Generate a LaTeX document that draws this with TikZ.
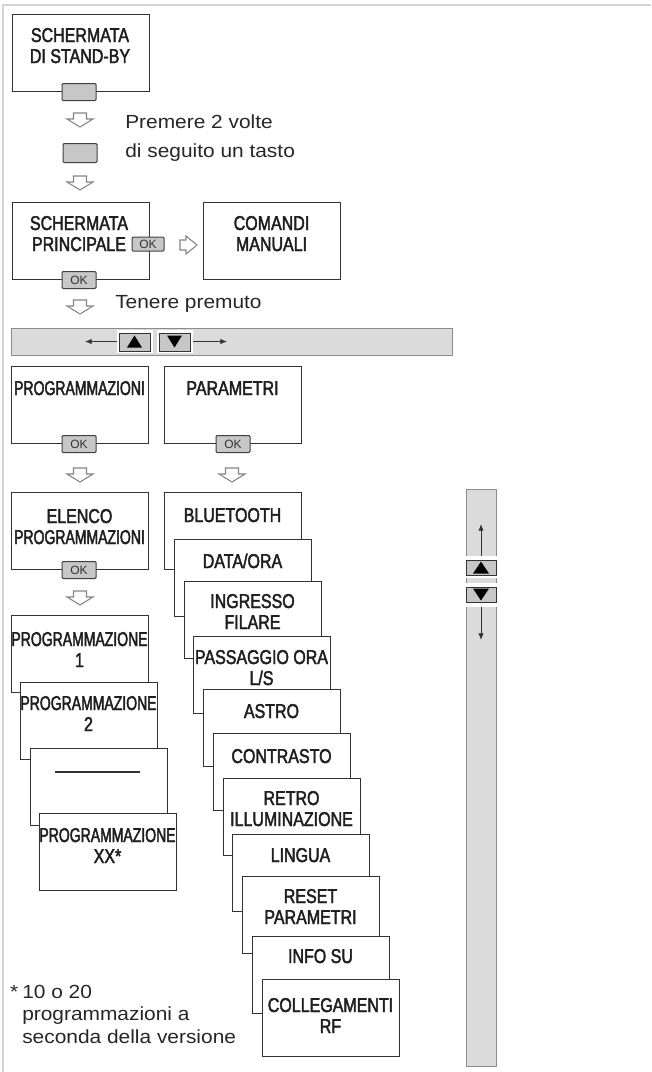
\documentclass[tikz,border=0pt]{standalone}
\usepackage{fontspec}
\setmainfont[FakeStretch=1.1]{Liberation Sans}
\newfontfamily\labfont[FakeStretch=0.8,FakeBold=2.2]{Liberation Sans}
\newfontfamily\labnarrow[FakeStretch=0.7,FakeBold=2.2]{Liberation Sans}
\newfontfamily\okfont{Liberation Sans}
\usetikzlibrary{arrows.meta}
\begin{document}
\begin{tikzpicture}[x=0.75pt,y=-0.75pt,
 box/.style={draw=black!80, line width=1.1pt, fill=white, minimum width=102.75pt, minimum height=57.75pt, inner sep=0pt, anchor=north west},
 lab/.style={font=\labfont\fontsize{15}{15.75}\selectfont, align=center, inner sep=0pt, anchor=base, text=black!88},
 lab2/.style={lab, yshift=-15.75pt},
 key/.style={draw=black!75, fill=black!22, line width=0.75pt, rounded corners=0.8pt, minimum width=25.5pt, minimum height=12.75pt, inner sep=0pt, font=\okfont\fontsize{9}{9}\selectfont, text=black!80},
 txt/.style={font=\fontsize{14.25}{21.75}\selectfont, align=left, inner sep=0pt, anchor=base west, text=black!85},
 barstyle/.style={draw=black!45, fill=black!14, line width=0.9pt, inner sep=0pt, anchor=north west},
 barkey/.style={draw=black!80, fill=black!22, line width=0.75pt, inner sep=0pt},
 bgwhite/.style={fill=white, draw=none, inner sep=0pt},
 harr/.style={draw=black!48, fill=white, line width=0.8pt, line join=miter},
 thinarr/.style={draw=black!80, line width=0.6pt, -{Latex[length=5pt,width=4pt]}},
 downarr/.pic={\path[harr] (-6.5,0) -- (6.5,0) -- (6.5,6) -- (13,6) -- (0,14) -- (-13,6) -- (-6.5,6) -- cycle;},
 rightarr/.pic={\path[harr] (0,-5) -- (6,-5) -- (6,-9) -- (17,0) -- (6,9) -- (6,5) -- (0,5) -- cycle;}
]
\useasboundingbox (0,0) rectangle (651,1072);
% frame
\draw[black!17, line width=1.5pt] (3,1072) -- (3,5) -- (651,5);

% stand-by
\node[box] (sb) at (12,14) {};
\node[lab2] (sbt) at (80,42) {SCHERMATA\\DI STAND-BY};
\node[key] (k1) at (79,92) {};
\pic at (80,113) {downarr};
\node[key, minimum height=14.25pt] (k2) at (80,153) {};
\pic at (80,176) {downarr};
\node[txt, yshift=-21.75pt] (t1) at (125,128) {Premere 2 volte\\di seguito un tasto};

% principale
\node[box] (pr) at (12,202) {};
\node[lab2] (prt) at (79,230) {SCHERMATA\\PRINCIPALE};
\node[key, minimum width=24pt, minimum height=10.5pt] (k3) at (148,244) {OK};
\node[key] (k4) at (79,280) {OK};
\pic at (180,245) {rightarr};
\node[box] (cm) at (203,202) {};
\node[lab2] (cmt) at (271.5,230) {COMANDI\\MANUALI};
\pic at (80,300) {downarr};
\node[txt] (t2) at (115,308) {Tenere premuto};

% horizontal bar
\node[barstyle, minimum width=330.75pt, minimum height=20.25pt] (hbar) at (11,328) {};
\node[bgwhite, minimum width=27pt, minimum height=17.25pt] (hub) at (135,341.5) {};
\node[bgwhite, minimum width=27pt, minimum height=17.25pt] (hdb) at (175,341.5) {};
\node[barkey, minimum width=23.25pt, minimum height=13.5pt] (huk) at (134.5,342) {};
\node[barkey, minimum width=23.25pt, minimum height=13.5pt] (hdk) at (174.5,342) {};
\fill[black] (huk.center) ++(-7.5,5.5) -- ++(15,0) -- ++(-7.5,-12) -- cycle;
\fill[black] (hdk.center) ++(-7.5,-6.5) -- ++(15,0) -- ++(-7.5,12) -- cycle;
\coordinate (hl) at (85,341.5);
\coordinate (hr) at (227,341.5);
\draw[thinarr] (hub.west) -- (hl);
\draw[thinarr] (hdb.east) -- (hr);

% programmazioni / parametri
\node[box] (pg) at (11,366) {};
\node[lab, font=\labnarrow\fontsize{15}{15.75}\selectfont] (pgt) at (79.5,395) {PROGRAMMAZIONI};
\node[key] (k5) at (79,444) {OK};
\node[box] (pa) at (164,366) {};
\node[lab] (pat) at (232.5,395) {PARAMETRI};
\node[key] (k6) at (233,444) {OK};
\pic at (80,468) {downarr};
\pic at (232,468) {downarr};

% left column
\node[box] (el) at (11,492) {};
\node[lab2] (elt) at (79.5,523) {ELENCO\\{\labnarrow PROGRAMMAZIONI}};
\node[key] (k7) at (79,570) {OK};
\pic at (80,591) {downarr};
\node[box] (p1) at (11,615) {};
\node[lab2] (p1t) at (79.5,646) {{\labnarrow PROGRAMMAZIONE}\\1};
\node[box] (p2) at (20,682) {};
\node[lab2] (p2t) at (88.5,710) {{\labnarrow PROGRAMMAZIONE}\\2};
\node[box] (p3) at (30,748) {};
\draw[black!80, line width=1pt] (55,772) -- (140,772);
\node[box] (p4) at (39,813) {};
\node[lab2] (p4t) at (107.5,842) {{\labnarrow PROGRAMMAZIONE}\\XX*};

% right column
\node[box] (r1) at (164,492) {};
\node[lab] (r1t) at (232.5,522) {BLUETOOTH};
\node[box] (r2) at (174,539) {};
\node[lab] (r2t) at (242.5,568) {DATA/ORA};
\node[box] (r3) at (184,581) {};
\node[lab2] (r3t) at (252.5,608) {INGRESSO\\FILARE};
\node[box] (r4) at (193,636) {};
\node[lab2] (r4t) at (261.5,664) {PASSAGGIO ORA\\L/S};
\node[box] (r5) at (203,689) {};
\node[lab] (r5t) at (271.5,718) {ASTRO};
\node[box] (r6) at (213,733) {};
\node[lab] (r6t) at (281.5,763) {CONTRASTO};
\node[box] (r7) at (223,778) {};
\node[lab2] (r7t) at (291.5,805) {RETRO\\ILLUMINAZIONE};
\node[box] (r8) at (232,834) {};
\node[lab] (r8t) at (300.5,862) {LINGUA};
\node[box] (r9) at (242,876) {};
\node[lab2] (r9t) at (310.5,903) {RESET\\PARAMETRI};
\node[box] (r10) at (252,936) {};
\node[lab] (r10t) at (320.5,963) {INFO SU};
\node[box] (r11) at (262,979) {};
\node[lab2] (r11t) at (330.5,1012) {COLLEGAMENTI\\RF};

% vertical bar
\node[barstyle, minimum width=22.5pt, minimum height=432.75pt] (vbar) at (466,489) {};
\node[bgwhite, minimum width=25.5pt, minimum height=16.5pt] (vub) at (481,567) {};
\node[bgwhite, minimum width=25.5pt, minimum height=18pt] (vdb) at (481,595) {};
\node[barkey, minimum width=22.5pt, minimum height=11.25pt] (vuk) at (481,567.5) {};
\node[barkey, minimum width=22.5pt, minimum height=11.25pt] (vdk) at (481,594.5) {};
\fill[black] (vuk.center) ++(-8,6) -- ++(16,0) -- ++(-8,-12) -- cycle;
\fill[black] (vdk.center) ++(-8,-6) -- ++(16,0) -- ++(-8,12) -- cycle;
\coordinate (vu) at (481,524);
\coordinate (vd) at (481,640);
\draw[thinarr] (vub.north) -- (vu);
\draw[thinarr] (vdb.south) -- (vd);

% footnote
\node[txt, font=\fontsize{14.25}{16.9}\selectfont, yshift=-33.8pt] (fn) at (22,998) {\llap{*\kern3pt}10 o 20\\programmazioni a\\seconda della versione};
\end{tikzpicture}
\end{document}
